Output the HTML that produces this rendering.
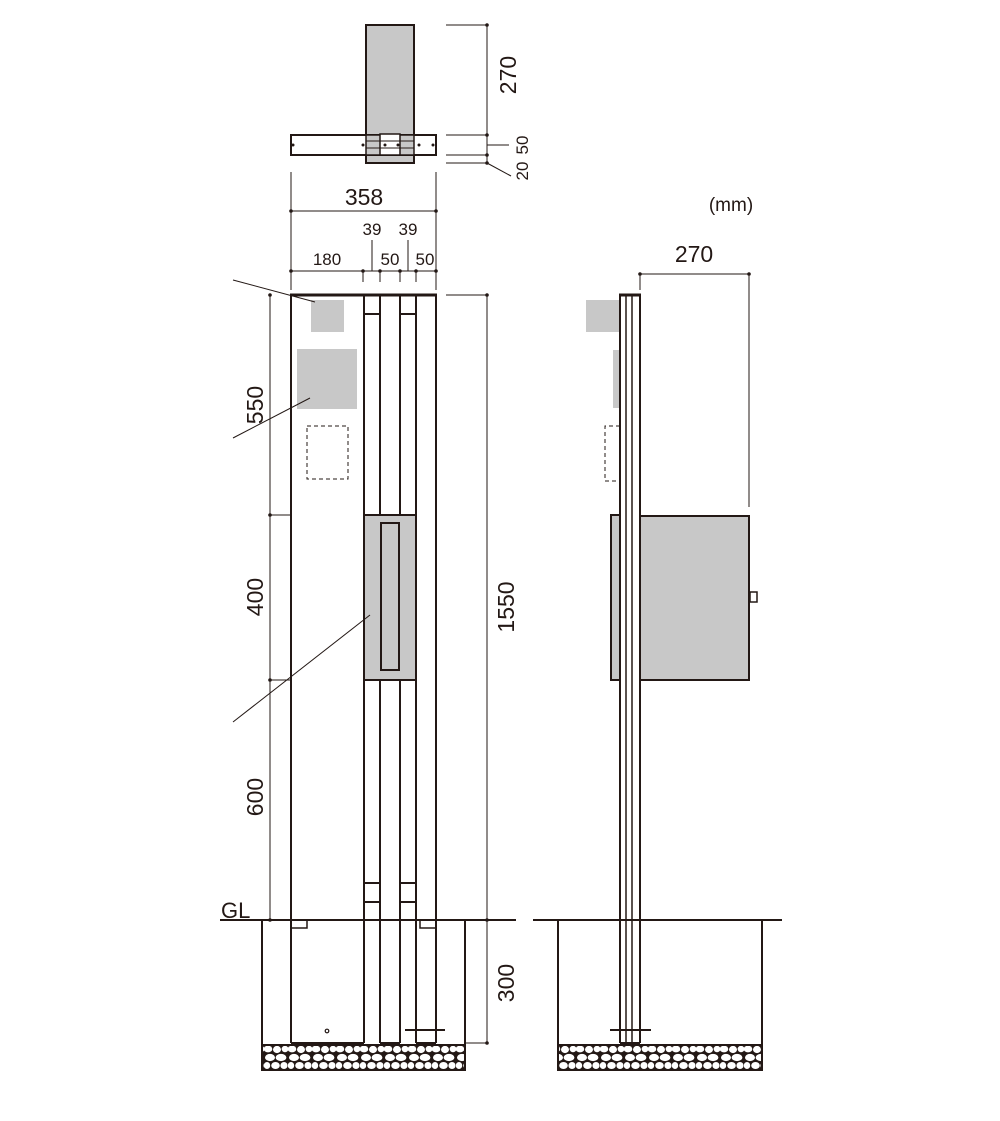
<!DOCTYPE html>
<html><head><meta charset="utf-8"><style>html,body{margin:0;padding:0;background:#fff}svg{display:block}text{font-family:"Liberation Sans",sans-serif;fill:#231815}</style></head>
<body>
<svg width="1000" height="1121" viewBox="0 0 1000 1121" xmlns="http://www.w3.org/2000/svg">
<defs>
<pattern id="grav" width="24" height="25" patternUnits="userSpaceOnUse" y="1045">
<rect width="24" height="25" fill="#231815"/>
<ellipse cx="4" cy="4" rx="4.3" ry="3.4" fill="#fff"/>
<ellipse cx="13" cy="4.5" rx="4" ry="3.6" fill="#fff"/>
<ellipse cx="21" cy="4" rx="3.4" ry="3.2" fill="#fff"/>
<ellipse cx="6" cy="12.5" rx="5" ry="3.6" fill="#fff"/>
<ellipse cx="17" cy="12.5" rx="5.4" ry="3.6" fill="#fff"/>
<ellipse cx="3" cy="20.5" rx="3.2" ry="3.5" fill="#fff"/>
<ellipse cx="11.5" cy="20.5" rx="4.3" ry="3.5" fill="#fff"/>
<ellipse cx="20" cy="20.5" rx="3.6" ry="3.5" fill="#fff"/>
</pattern>
</defs>
<g stroke="#231815" fill="none">
<rect x="366" y="25" width="48" height="138" fill="#c8c8c8" stroke-width="2"/>
<rect x="291" y="135" width="145" height="20" fill="#fff" stroke-width="2"/>
<rect x="366" y="135" width="48" height="20" fill="#c8c8c8" stroke-width="1.5"/>
<rect x="380" y="134" width="20" height="21" fill="#fff" stroke-width="1.5"/>
<line x1="366" y1="141" x2="414" y2="141" stroke-width="1"/>
<line x1="366" y1="148" x2="414" y2="148" stroke-width="1"/>
<g fill="#231815" stroke="none"><circle cx="293" cy="145" r="1.5"/><circle cx="363" cy="145" r="1.5"/><circle cx="385" cy="145" r="1.5"/><circle cx="398" cy="145" r="1.5"/><circle cx="419" cy="145" r="1.5"/><circle cx="433" cy="145" r="1.5"/></g>
<g stroke-width="1">
<line x1="446" y1="25" x2="488" y2="25"/><line x1="446" y1="135" x2="488" y2="135"/><line x1="446" y1="155" x2="488" y2="155"/><line x1="446" y1="163" x2="488" y2="163"/>
<line x1="487" y1="25" x2="487" y2="163"/>
<line x1="487" y1="145" x2="509" y2="145"/><line x1="487" y1="163" x2="511" y2="176"/>
</g>
<g fill="#231815" stroke="none"><circle cx="487" cy="25" r="1.8"/><circle cx="487" cy="135" r="1.8"/><circle cx="487" cy="155" r="1.8"/><circle cx="487" cy="163" r="1.8"/></g>
<g stroke-width="1">
<line x1="291" y1="172" x2="291" y2="290"/><line x1="436" y1="172" x2="436" y2="290"/>
<line x1="291" y1="211" x2="436" y2="211"/>
<line x1="291" y1="271" x2="436" y2="271"/>
<line x1="363" y1="271" x2="363" y2="282"/><line x1="380" y1="271" x2="380" y2="282"/><line x1="400" y1="271" x2="400" y2="282"/><line x1="416" y1="271" x2="416" y2="282"/>
<line x1="372" y1="240" x2="372" y2="271"/><line x1="408" y1="240" x2="408" y2="271"/>
</g>
<g fill="#231815" stroke="none"><circle cx="291" cy="211" r="1.8"/><circle cx="436" cy="211" r="1.8"/><circle cx="291" cy="271" r="1.8"/><circle cx="363" cy="271" r="1.8"/><circle cx="380" cy="271" r="1.8"/><circle cx="400" cy="271" r="1.8"/><circle cx="416" cy="271" r="1.8"/><circle cx="436" cy="271" r="1.8"/></g>
<line x1="291" y1="295" x2="291" y2="1043" stroke-width="2"/>
<line x1="364" y1="295" x2="364" y2="1043" stroke-width="2"/>
<line x1="380" y1="295" x2="380" y2="1043" stroke-width="2"/>
<line x1="400" y1="295" x2="400" y2="1043" stroke-width="2"/>
<line x1="416" y1="295" x2="416" y2="1043" stroke-width="2"/>
<line x1="436" y1="295" x2="436" y2="1043" stroke-width="2"/>
<line x1="290" y1="295" x2="437" y2="295" stroke-width="3"/>
<line x1="291" y1="1043" x2="364" y2="1043" stroke-width="2"/>
<line x1="380" y1="1043" x2="400" y2="1043" stroke-width="2"/>
<line x1="416" y1="1043" x2="436" y2="1043" stroke-width="2"/>
<line x1="364" y1="314" x2="380" y2="314" stroke-width="2"/><line x1="400" y1="314" x2="416" y2="314" stroke-width="2"/>
<line x1="364" y1="883" x2="380" y2="883" stroke-width="2"/><line x1="400" y1="883" x2="416" y2="883" stroke-width="2"/>
<line x1="364" y1="902" x2="380" y2="902" stroke-width="2"/><line x1="400" y1="902" x2="416" y2="902" stroke-width="2"/>
<rect x="311" y="300" width="33" height="32" fill="#c8c8c8" stroke="none"/>
<rect x="297" y="349" width="60" height="60" fill="#c8c8c8" stroke="none"/>
<rect x="307" y="426" width="41" height="53" stroke-width="1" stroke-dasharray="4,3"/>
<rect x="364" y="515" width="52" height="165" fill="#c8c8c8" stroke-width="2"/>
<rect x="381" y="523" width="18" height="147" stroke-width="2"/>
<polyline points="291,920 291,928 307,928 307,920" stroke-width="1.5"/>
<polyline points="420,920 420,928 436,928" stroke-width="1.5"/>
<line x1="405" y1="1030" x2="445" y2="1030" stroke-width="2"/>
<circle cx="327" cy="1031" r="1.8" stroke-width="1.2"/>
<line x1="220" y1="920" x2="516" y2="920" stroke-width="2"/>
<polyline points="262,920 262,1070 465,1070 465,920" stroke-width="2"/>
<rect x="262" y="1045" width="203" height="25" fill="url(#grav)" stroke-width="2"/>
<g stroke-width="1">
<line x1="270" y1="295" x2="270" y2="920"/>
<line x1="233" y1="280" x2="315" y2="302"/>
<line x1="233" y1="438" x2="310" y2="398"/>
<line x1="233" y1="722" x2="370" y2="615"/>
<line x1="270" y1="515" x2="291" y2="515"/><line x1="270" y1="680" x2="291" y2="680"/>
<line x1="446" y1="295" x2="488" y2="295"/>
<line x1="487" y1="295" x2="487" y2="1043"/>
<line x1="466" y1="1043" x2="488" y2="1043"/>
</g>
<g fill="#231815" stroke="none"><circle cx="270" cy="295" r="1.8"/><circle cx="270" cy="515" r="1.8"/><circle cx="270" cy="680" r="1.8"/><circle cx="270" cy="920" r="1.8"/><circle cx="487" cy="295" r="1.8"/><circle cx="487" cy="920" r="1.8"/><circle cx="487" cy="1043" r="1.8"/></g>
<rect x="586" y="300" width="33" height="32" fill="#c8c8c8" stroke="none"/>
<rect x="613" y="350" width="6" height="58" fill="#c8c8c8" stroke="none"/>
<polyline points="620,426 605,426 605,481 620,481" stroke-width="1" stroke-dasharray="4,3"/>
<rect x="611" y="515" width="9" height="165" fill="#c8c8c8" stroke-width="2"/>
<rect x="640" y="516" width="109" height="164" fill="#c8c8c8" stroke-width="2"/>
<rect x="750" y="592" width="7" height="10" fill="#fff" stroke-width="1.5"/>
<line x1="620" y1="295" x2="620" y2="1043" stroke-width="2"/>
<line x1="626" y1="295" x2="626" y2="1043" stroke-width="1.5"/>
<line x1="632" y1="295" x2="632" y2="1043" stroke-width="1.5"/>
<line x1="640" y1="295" x2="640" y2="1043" stroke-width="2"/>
<line x1="619" y1="295" x2="641" y2="295" stroke-width="3"/>
<line x1="620" y1="1043" x2="640" y2="1043" stroke-width="2"/>
<line x1="610" y1="1030" x2="651" y2="1030" stroke-width="2"/>
<line x1="533" y1="920" x2="782" y2="920" stroke-width="2"/>
<polyline points="558,920 558,1070 762,1070 762,920" stroke-width="2"/>
<rect x="558" y="1045" width="204" height="25" fill="url(#grav)" stroke-width="2"/>
<g stroke-width="1"><line x1="640" y1="274" x2="749" y2="274"/><line x1="749" y1="274" x2="749" y2="507"/><line x1="640" y1="274" x2="640" y2="290"/></g>
<g fill="#231815" stroke="none"><circle cx="640" cy="274" r="1.8"/><circle cx="749" cy="274" r="1.8"/></g>
</g>
<g font-size="20">
<text x="364" y="205" text-anchor="middle" font-size="23">358</text>
<text x="372" y="235" text-anchor="middle" font-size="17">39</text>
<text x="408" y="235" text-anchor="middle" font-size="17">39</text>
<text x="327" y="265" text-anchor="middle" font-size="17">180</text>
<text x="390" y="265" text-anchor="middle" font-size="17">50</text>
<text x="425" y="265" text-anchor="middle" font-size="17">50</text>
<text x="694" y="262" text-anchor="middle" font-size="23">270</text>
<text x="731" y="211" text-anchor="middle" font-size="19">(mm)</text>
<text x="221" y="918" font-size="22">GL</text>
<text transform="translate(516,75) rotate(-90)" text-anchor="middle" font-size="23">270</text>
<text transform="translate(528,145) rotate(-90)" text-anchor="middle" font-size="17">50</text>
<text transform="translate(528,171) rotate(-90)" text-anchor="middle" font-size="17">20</text>
<text transform="translate(263,405) rotate(-90)" text-anchor="middle" font-size="23">550</text>
<text transform="translate(263,597) rotate(-90)" text-anchor="middle" font-size="23">400</text>
<text transform="translate(263,797) rotate(-90)" text-anchor="middle" font-size="23">600</text>
<text transform="translate(514,607) rotate(-90)" text-anchor="middle" font-size="23">1550</text>
<text transform="translate(514,983) rotate(-90)" text-anchor="middle" font-size="23">300</text>
</g>
</svg>
</body></html>
